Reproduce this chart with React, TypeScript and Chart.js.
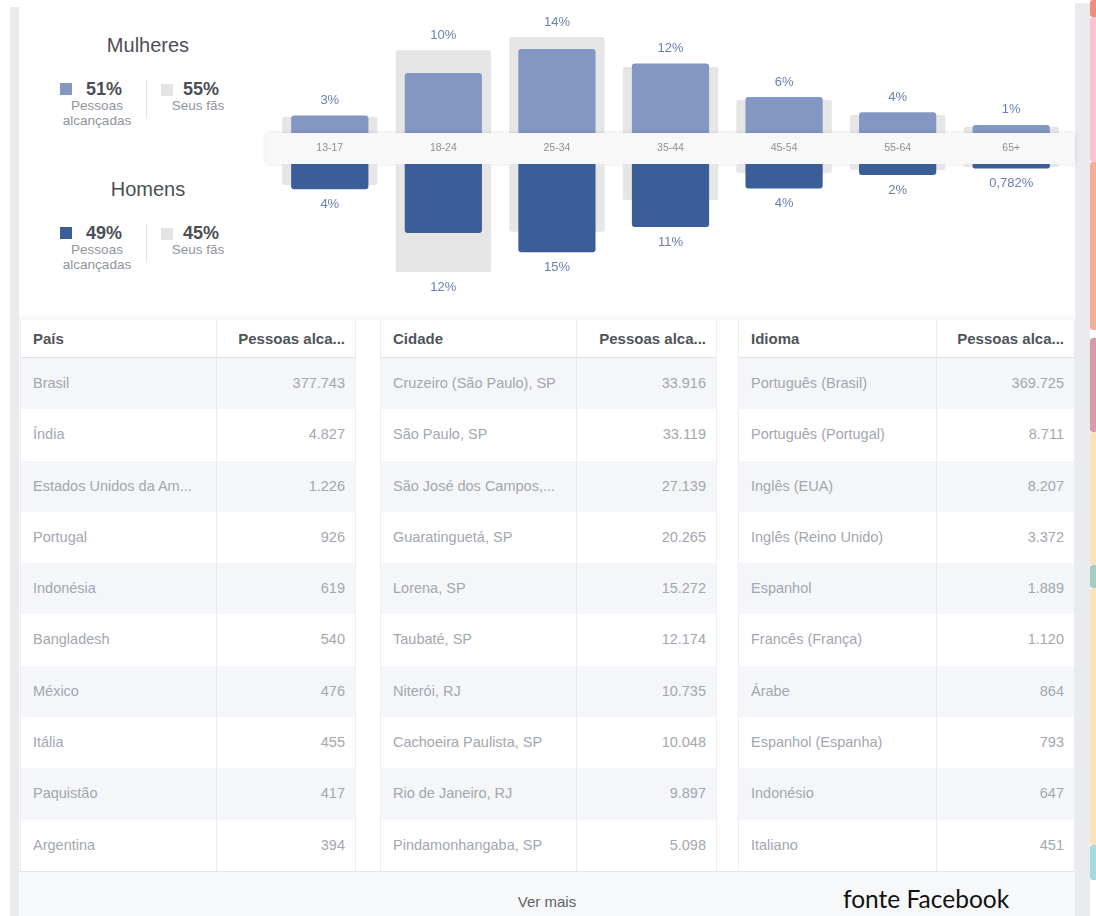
import React, { useEffect, useRef } from "react";
import { Chart, registerables } from "chart.js";

Chart.register(...registerables);

// ---------- data ----------
const ageGroups = ["13-17", "18-24", "25-34", "35-44", "45-54", "55-64", "65+"];
const womenReach = [2.9, 10.0, 14.0, 11.6, 6.0, 3.45, 1.35];
const womenFans = [2.7, 13.8, 16.0, 11.0, 5.5, 3.0, 1.05];
const menReach = [4.2, 11.5, 14.7, 10.5, 4.1, 1.85, 0.75];
const menFans = [3.5, 18.0, 11.3, 6.0, 1.5, 1.0, 0.5];
const womenLabels = ["3%", "10%", "14%", "12%", "6%", "4%", "1%"];
const menLabels = ["4%", "12%", "15%", "11%", "4%", "2%", "0,782%"];

const womenReachTotal = "51%";
const womenFansTotal = "55%";
const menReachTotal = "49%";
const menFansTotal = "45%";

const countryNames = ["Brasil", "Índia", "Estados Unidos da Am...", "Portugal", "Indonésia", "Bangladesh", "México", "Itália", "Paquistão", "Argentina"];
const countryValues = ["377.743", "4.827", "1.226", "926", "619", "540", "476", "455", "417", "394"];
const cityNames = ["Cruzeiro (São Paulo), SP", "São Paulo, SP", "São José dos Campos,...", "Guaratinguetá, SP", "Lorena, SP", "Taubaté, SP", "Niterói, RJ", "Cachoeira Paulista, SP", "Rio de Janeiro, RJ", "Pindamonhangaba, SP"];
const cityValues = ["33.916", "33.119", "27.139", "20.265", "15.272", "12.174", "10.735", "10.048", "9.897", "5.098"];
const languageNames = ["Português (Brasil)", "Português (Portugal)", "Inglês (EUA)", "Inglês (Reino Unido)", "Espanhol", "Francês (França)", "Árabe", "Espanhol (Espanha)", "Indonésio", "Italiano"];
const languageValues = ["369.725", "8.711", "8.207", "3.372", "1.889", "1.120", "864", "793", "647", "451"];

const FONT = "'Liberation Sans', Arial, Helvetica, sans-serif";

const valueLabelPlugin = {
  id: "valueLabels",
  afterDatasetsDraw(chart: any, _args: any, opts: any) {
    const { ctx } = chart;
    const labels: string[] = opts.labels || [];
    const down = !!opts.down;
    const m0 = chart.getDatasetMeta(0);
    const m1 = chart.getDatasetMeta(1);
    ctx.save();
    ctx.font = `13px ${FONT}`;
    ctx.fillStyle = opts.color || "#6077a8";
    ctx.textAlign = "center";
    ctx.textBaseline = "middle";
    labels.forEach((t, i) => {
      const a = m0.data[i];
      const b = m1.data[i];
      if (!a || !b) return;
      const y = down ? Math.max(a.y, b.y) + 15 : Math.min(a.y, b.y) - 15;
      ctx.fillText(t, a.x, y);
    });
    ctx.restore();
  },
};

type AgeChartProps = {
  reach: number[];
  fans: number[];
  labels: string[];
  reachColor: string;
  down: boolean;
  top: number;
  height: number;
  max: number;
  showAxis: boolean;
};

function AgeChart(p: AgeChartProps) {
  const ref = useRef<HTMLCanvasElement>(null);
  useEffect(() => {
    const xScale: any = {
      display: p.showAxis,
      position: "top",
      grid: { display: false, drawTicks: false },
      border: { display: false },
      ticks: { color: "#8d9096", font: { size: 10.5, family: FONT }, padding: 10, maxRotation: 0 },
    };
    if (p.showAxis) {
      xScale.afterFit = (s: any) => {
        s.height = 31;
      };
    }
    const chart = new Chart(ref.current as HTMLCanvasElement, {
      type: "bar",
      data: {
        labels: ageGroups,
        datasets: [
          {
            data: p.reach,
            backgroundColor: p.reachColor,
            barPercentage: 0.68,
            categoryPercentage: 1,
            grouped: false,
            order: 0,
            borderRadius: 3,
          } as any,
          {
            data: p.fans,
            backgroundColor: "#e6e6e6",
            barPercentage: 0.84,
            categoryPercentage: 1,
            grouped: false,
            order: 1,
            borderRadius: 2,
          } as any,
        ],
      },
      options: {
        animation: false,
        responsive: true,
        maintainAspectRatio: false,
        events: [],
        layout: { padding: 0 },
        plugins: {
          legend: { display: false },
          tooltip: { enabled: false },
          valueLabels: { labels: p.labels, down: p.down, color: "#6a7fae" },
        } as any,
        scales: {
          x: xScale,
          y: { display: false, min: 0, max: p.max, reverse: p.down },
        },
      },
      plugins: [valueLabelPlugin as any],
    });
    return () => chart.destroy();
  }, []);
  return (
    <div style={{ position: "absolute", left: 273, top: p.top, width: 795, height: p.height }}>
      <canvas ref={ref} />
    </div>
  );
}

function abs(left: number, top: number, extra: React.CSSProperties = {}): React.CSSProperties {
  return { position: "absolute", left, top, ...extra };
}

function LegendBlock(props: { top: number; title: string; color: string; reach: string; fans: string }) {
  const t = props.top;
  return (
    <>
      <div style={abs(48, t - 12, { width: 200, textAlign: "center", fontSize: 20, lineHeight: "24px", color: "#4b4f56" })}>{props.title}</div>
      <div style={abs(60, t + 38, { width: 12, height: 12, background: props.color })} />
      <div style={abs(86, t + 34, { fontSize: 18, lineHeight: "20px", fontWeight: "bold", color: "#4b4f56" })}>{props.reach}</div>
      <div style={abs(47, t + 53, { width: 100, textAlign: "center", fontSize: 13.5, lineHeight: "15px", color: "#90949c" })}>
        Pessoas
        <br />
        alcançadas
      </div>
      <div style={abs(146, t + 35, { width: 1, height: 38, background: "#e5e6e9" })} />
      <div style={abs(161, t + 39, { width: 12, height: 12, background: "#e4e4e4" })} />
      <div style={abs(183, t + 34, { fontSize: 18, lineHeight: "20px", fontWeight: "bold", color: "#4b4f56" })}>{props.fans}</div>
      <div style={abs(148, t + 53, { width: 100, textAlign: "center", fontSize: 13.5, lineHeight: "15px", color: "#90949c" })}>Seus fãs</div>
    </>
  );
}

function DataTable(props: { left: number; width: number; col1: number; title: string; names: string[]; values: string[] }) {
  const rowH = 51.3;
  return (
    <div
      style={abs(props.left, 320, {
        width: props.width,
        height: 551,
        boxSizing: "border-box",
        borderLeft: "1px solid #eceef1",
        borderRight: "1px solid #eceef1",
        background: "#fff",
      })}
    >
      <div style={{ height: 38, display: "flex", borderBottom: "1px solid #dfe1e5", boxSizing: "border-box", fontSize: 15, fontWeight: "bold", color: "#50545b" }}>
        <div style={{ width: props.col1, padding: "0 12px", lineHeight: "37px", borderRight: "1px solid #e9ebee", boxSizing: "border-box" }}>{props.title}</div>
        <div style={{ flex: 1, padding: "0 10px", lineHeight: "37px", textAlign: "right" }}>Pessoas alca...</div>
      </div>
      {props.names.map((n, i) => (
        <div key={i} style={{ height: rowH, display: "flex", background: i % 2 === 0 ? "#f5f6f9" : "#fff", fontSize: 14.5, color: "#a3a7ae" }}>
          <div style={{ width: props.col1, padding: "0 12px", lineHeight: rowH + "px", borderRight: "1px solid #e9ebee", boxSizing: "border-box", whiteSpace: "nowrap", overflow: "hidden" }}>{n}</div>
          <div style={{ flex: 1, padding: "0 10px", lineHeight: rowH + "px", textAlign: "right" }}>{props.values[i]}</div>
        </div>
      ))}
    </div>
  );
}

const stripes: [number, number, string][] = [
  [0, 17, "#ef8c80"],
  [17, 162, "#f8c5cd"],
  [162, 330, "#f6ae98"],
  [338, 432, "#d99aaa"],
  [432, 565, "#fce1b9"],
  [565, 588, "#a2cfc1"],
  [588, 845, "#fce1b9"],
  [845, 880, "#a8d9e0"],
];

export default function App() {
  return (
    <div style={{ position: "absolute", left: 0, top: 0, width: 1096, height: 916, overflow: "hidden", background: "#fff", fontFamily: FONT }}>
      {/* side borders */}
      <div style={abs(10, 7, { width: 9, height: 909, background: "#e9ebee" })} />
      <div style={abs(1075, 3, { width: 15, height: 913, background: "#e9ebee" })} />
      {stripes.map(([a, b, c], i) => (
        <div key={i} style={abs(1090, a, { width: 6, height: b - a, background: c, borderRadius: "3px 0 0 3px" })} />
      ))}

      {/* legend */}
      <LegendBlock top={45} title="Mulheres" color="#8497c2" reach={womenReachTotal} fans={womenFansTotal} />
      <LegendBlock top={189} title="Homens" color="#3b5e99" reach={menReachTotal} fans={menFansTotal} />

      {/* chart */}
      <AgeChart reach={womenReach} fans={womenFans} labels={womenLabels} reachColor="#8497c2" down={false} top={0} height={133} max={133 / 6} showAxis={false} />
      <div style={abs(266, 133, { width: 809, height: 31, background: "#f8f8f8", boxShadow: "0 0 4px rgba(0,0,0,0.13)" })} />
      <AgeChart reach={menReach} fans={menFans} labels={menLabels} reachColor="#3b5e99" down={true} top={133} height={180} max={149 / 6} showAxis={true} />

      {/* separator above tables */}
      <div style={abs(19, 313, { width: 1056, height: 7, background: "linear-gradient(#fff, #f4f5f7)" })} />

      {/* tables */}
      <DataTable left={20} width={336} col1={196} title="País" names={countryNames} values={countryValues} />
      <DataTable left={380} width={337} col1={196} title="Cidade" names={cityNames} values={cityValues} />
      <DataTable left={738} width={337} col1={198} title="Idioma" names={languageNames} values={languageValues} />

      {/* footer */}
      <div style={abs(19, 871, { width: 1056, height: 45, background: "#f7f8fa", borderTop: "1px solid #e3e5e8", boxSizing: "border-box" })} />
      <div style={abs(447, 892, { width: 200, textAlign: "center", fontSize: 15, lineHeight: "20px", color: "#5d6168" })}>Ver mais</div>
      <div style={abs(843, 885, { fontSize: 24.5, lineHeight: "28px", fontFamily: "Lato, 'Noto Sans', sans-serif", color: "#111" })}>fonte Facebook</div>
    </div>
  );
}
